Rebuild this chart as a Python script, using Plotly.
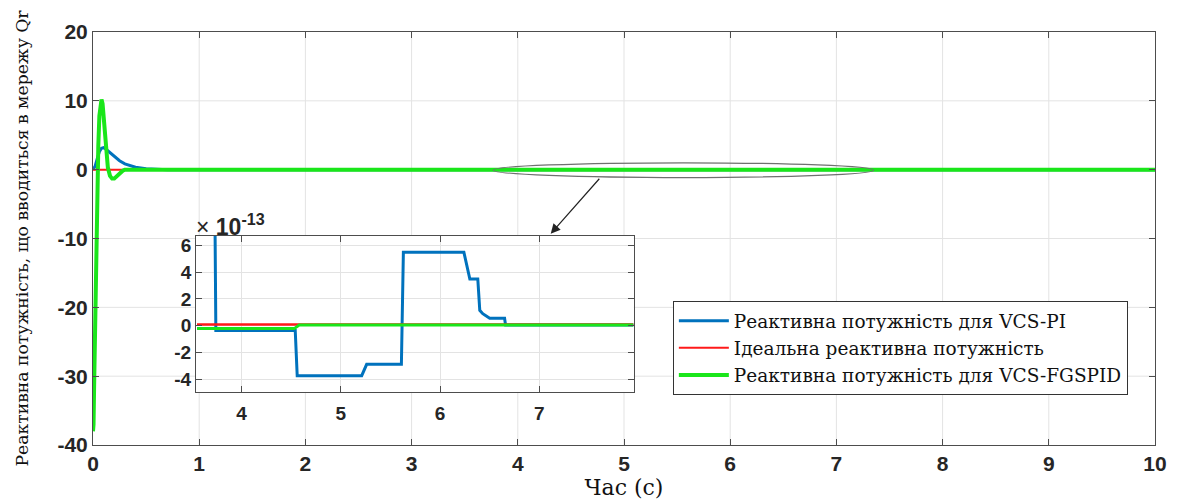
import plotly.graph_objects as go

# ---------------- data (main plot) ----------------
t_pi = [0, 0.02, 0.04, 0.06, 0.08, 0.1, 0.12, 0.15, 0.2, 0.25, 0.3, 0.35, 0.4, 0.5, 0.6, 0.7, 10]
q_pi = [0, 0.5, 1.6, 2.6, 3.1, 3.2, 3.0, 2.6, 1.9, 1.3, 0.85, 0.55, 0.35, 0.12, 0.04, 0, 0]

t_ideal = [0, 10]
q_ideal = [0, 0]

t_fg = [0, 0.005, 0.01, 0.02, 0.03, 0.04, 0.05, 0.06, 0.07, 0.08, 0.09, 0.1, 0.11,
        0.12, 0.14, 0.16, 0.18, 0.2, 0.22, 0.25, 0.28, 0.3, 0.35, 0.4, 0.5, 10]
q_fg = [-38, -37, -32, -21, -10, -2.5, 3.5, 7.8, 9.8, 10.2, 9.6, 7.8, 5.4,
        3.0, 0.3, -0.9, -1.3, -1.3, -1.0, -0.5, -0.15, 0, 0.05, 0, 0, 0]

# ---------------- data (inset, x1e-13) ----------------
ti_pi = [3.55, 3.73, 3.74, 4.54, 4.56, 5.21, 5.26, 5.61, 5.63, 6.24, 6.30, 6.38, 6.40,
         6.43, 6.50, 6.65, 6.66, 7.95]
qi_pi = [9.0, 9.0, -0.36, -0.36, -3.75, -3.75, -2.9, -2.9, 5.5, 5.5, 3.5, 3.5, 1.15,
         0.9, 0.55, 0.55, 0.05, 0.05]

ti_ideal = [3.55, 7.95]
qi_ideal = [0.08, 0.08]

ti_fg = [3.55, 4.53, 4.58, 7.95]
qi_fg = [-0.22, -0.22, 0.05, 0.05]

x_ticks_main = [0, 1, 2, 3, 4, 5, 6, 7, 8, 9, 10]
y_ticks_main = [-40, -30, -20, -10, 0, 10, 20]
x_ticks_inset = [4, 5, 6, 7]
y_ticks_inset = [-4, -2, 0, 2, 4, 6]
x_range_main = [0, 10]
y_range_main = [-40, 20]
x_range_inset = [3.54, 7.95]
y_range_inset = [-4.95, 6.72]
inset_xdomain = [0.097, 0.509]
inset_ydomain = [0.129, 0.506]

names = ["Реактивна потужність для VCS-PI",
         "Ідеальна реактивна потужність",
         "Реактивна потужність для VCS-FGSPID"]

BLUE = "#0072BD"
RED = "#FF1A1A"
GREEN = "#1AE61A"
GRID = "#e3e3e3"
SERIF = "DejaVu Serif, Liberation Serif"
SANS = "Liberation Sans, Arial"


def bold_labels(vals):
    return ["<b>%g</b>" % v for v in vals]


fig = go.Figure()
fig.add_trace(go.Scatter(x=t_pi, y=q_pi, mode="lines", name=names[0],
                         line=dict(color=BLUE, width=3)))
fig.add_trace(go.Scatter(x=t_ideal, y=q_ideal, mode="lines", name=names[1],
                         line=dict(color=RED, width=2)))
fig.add_trace(go.Scatter(x=t_fg, y=q_fg, mode="lines", name=names[2],
                         line=dict(color=GREEN, width=4)))

# inset traces
fig.add_trace(go.Scatter(x=ti_pi, y=qi_pi, mode="lines", showlegend=False,
                         line=dict(color=BLUE, width=3), xaxis="x2", yaxis="y2"))
fig.add_trace(go.Scatter(x=ti_ideal, y=qi_ideal, mode="lines", showlegend=False,
                         line=dict(color=RED, width=2.5), xaxis="x2", yaxis="y2"))
fig.add_trace(go.Scatter(x=ti_fg, y=qi_fg, mode="lines", showlegend=False,
                         line=dict(color=GREEN, width=3), xaxis="x2", yaxis="y2"))

tickfont = dict(family=SANS, size=21, color="#262626")
tickfont2 = dict(family=SANS, size=19, color="#262626")
axis_common = dict(showline=True, linecolor="#4d4d4d", linewidth=1, mirror="ticks",
                   ticks="inside", ticklen=6, tickcolor="#4d4d4d", zeroline=False)

fig.update_layout(
    width=1174, height=495,
    margin=dict(l=85, r=27, t=15, b=55),
    paper_bgcolor="white", plot_bgcolor="white",
    showlegend=True,
    legend=dict(x=0.546, y=0.348, xanchor="left", yanchor="top",
                bgcolor="white", bordercolor="#333333", borderwidth=1,
                font=dict(family=SERIF, size=18.5, color="#111111"),
                tracegroupgap=0, itemwidth=50),
    xaxis=dict(range=x_range_main, tickvals=x_ticks_main, ticktext=bold_labels(x_ticks_main),
               domain=[0, 1], showgrid=False, tickfont=tickfont, **axis_common,
               title=dict(text="Час (с)", standoff=0,
                          font=dict(family=SERIF, size=22, color="#111111"))),
    yaxis=dict(range=y_range_main, tickvals=y_ticks_main, ticktext=bold_labels(y_ticks_main),
               domain=[0, 1], showgrid=False, tickfont=tickfont, **axis_common,
               title=dict(text="Реактивна потужність, що вводиться в мережу Qr", standoff=24,
                          font=dict(family=SERIF, size=17.2, color="#111111"))),
    xaxis2=dict(range=x_range_inset, tickvals=x_ticks_inset, ticktext=bold_labels(x_ticks_inset),
                domain=inset_xdomain, anchor="y2", tickfont=tickfont2, ticklabelstandoff=4,
                showgrid=True, gridcolor=GRID, gridwidth=1, **axis_common),
    yaxis2=dict(range=y_range_inset, tickvals=y_ticks_inset, ticktext=bold_labels(y_ticks_inset),
                domain=inset_ydomain, anchor="x2", tickfont=tickfont2,
                showgrid=True, gridcolor=GRID, gridwidth=1, **axis_common),
)

# inset box expressed in main-plot data coordinates (derived from the layout)
ix0 = x_range_main[0] + inset_xdomain[0] * (x_range_main[1] - x_range_main[0])
ix1 = x_range_main[0] + inset_xdomain[1] * (x_range_main[1] - x_range_main[0])
iy0 = y_range_main[0] + inset_ydomain[0] * (y_range_main[1] - y_range_main[0])
iy1 = y_range_main[0] + inset_ydomain[1] * (y_range_main[1] - y_range_main[0])

# main-plot grid lines, interrupted where the inset sits
grid_line = dict(color=GRID, width=1)
for xv in x_ticks_main[1:-1]:
    if ix0 < xv < ix1:
        segs = [(y_range_main[0], iy0), (iy1, y_range_main[1])]
    else:
        segs = [(y_range_main[0], y_range_main[1])]
    for a, b in segs:
        fig.add_shape(type="line", xref="x", yref="y", x0=xv, x1=xv, y0=a, y1=b,
                      line=grid_line, layer="below")
for yv in y_ticks_main[1:-1]:
    if iy0 < yv < iy1:
        segs = [(x_range_main[0], ix0), (ix1, x_range_main[1])]
    else:
        segs = [(x_range_main[0], x_range_main[1])]
    for a, b in segs:
        fig.add_shape(type="line", xref="x", yref="y", x0=a, x1=b, y0=yv, y1=yv,
                      line=grid_line, layer="below")

# ellipse around the zoomed region
fig.add_shape(type="circle", xref="x", yref="y", x0=3.77, x1=7.35, y0=-1.15, y1=1.0,
              line=dict(color="#707070", width=1.2), fillcolor="rgba(0,0,0,0)", layer="above")

# arrow from ellipse to inset
fig.add_annotation(x=4.31, y=-9.3, ax=4.78, ay=-1.1, xref="x", yref="y", axref="x", ayref="y",
                   showarrow=True, arrowhead=2, arrowsize=1.6, arrowwidth=1.2,
                   arrowcolor="#222222", text="")

# exponent label
fig.add_annotation(x=inset_xdomain[0], y=inset_ydomain[1], xref="paper", yref="paper",
                   xanchor="left", yanchor="bottom",
                   text="× <b>10<sup>-13</sup></b>", showarrow=False, yshift=-6, xshift=-2,
                   font=dict(family=SANS, size=23, color="#262626"))

fig.write_html("out.html")
